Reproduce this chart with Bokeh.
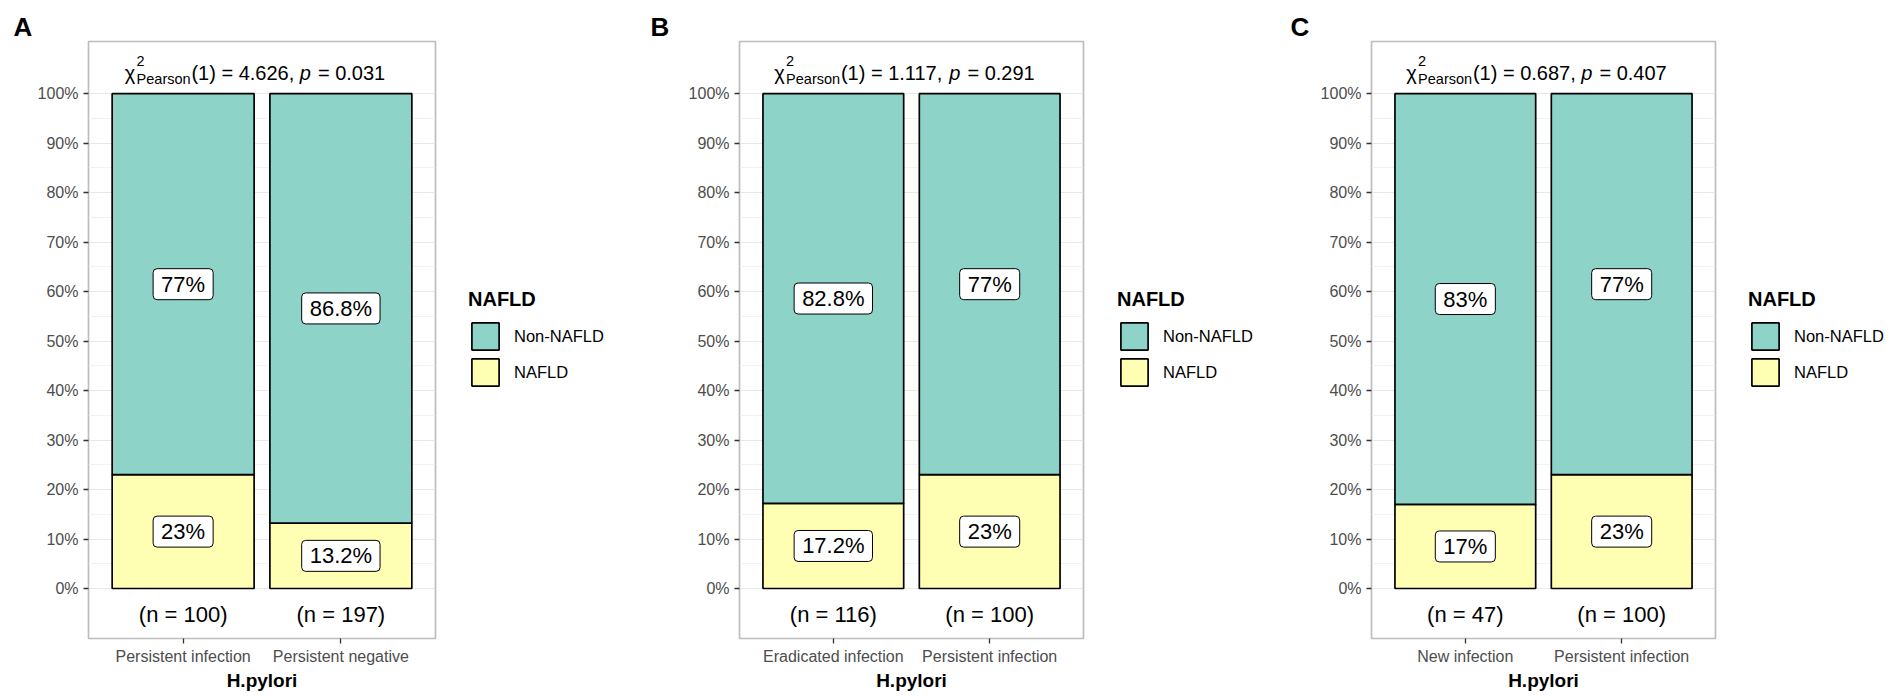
from bokeh.plotting import figure
from bokeh.models import Range1d, FixedTicker, Legend, LegendItem, ColumnDataSource, Title
from bokeh.layouts import row
from bokeh.embed import file_html
from bokeh.resources import INLINE
from bokeh.core.properties import value

# ---------------- data ----------------
panel_letters = ["A", "B", "C"]
groups_A = ["Persistent infection", "Persistent negative"]
groups_B = ["Eradicated infection", "Persistent infection"]
groups_C = ["New infection", "Persistent infection"]
nafld_A = [23.0, 13.2]
non_nafld_A = [77.0, 86.8]
n_A = [100, 197]
nafld_B = [17.2, 23.0]
non_nafld_B = [82.8, 77.0]
n_B = [116, 100]
nafld_C = [17.0, 23.0]
non_nafld_C = [83.0, 77.0]
n_C = [47, 100]
chi_A, p_A = "4.626", "0.031"
chi_B, p_B = "1.117", "0.291"
chi_C, p_C = "0.687", "0.407"
chi_df = 1
y_ticks = list(range(0, 101, 10))
y_minor = list(range(5, 100, 10))
y_tick_labels = [f"{t}%" for t in y_ticks]
legend_title = "NAFLD"
legend_labels = ["Non-NAFLD", "NAFLD"]
x_title = "H.pylori"

# ---------------- style ----------------
COL_NON = "#8DD3C7"
COL_NAFLD = "#FFFFB3"
FONT = "Liberation Sans"
TOP, FRAME_H, BOTTOM = 41, 601, 51
FIG_H = TOP + FRAME_H + BOTTOM
Y0, Y1 = -10.1, 110.54

W = {" ": .278, "(": .333, ")": .333, "=": .584, ".": .278, ",": .278, "p": .556,
     "P": .667, "e": .556, "a": .556, "r": .333, "s": .5, "o": .556, "n": .556, "χ": .55}
for d in "0123456789":
    W[d] = .556


def tw(s, size):
    return sum(W.get(c, .556) for c in s) * size


def make_panel(letter, groups, nafld, non, ns, chi, pv, left, frame_w, right, letter_dx):
    p = figure(width=left + frame_w + right, height=FIG_H,
               x_range=Range1d(0.4, 2.6), y_range=Range1d(Y0, Y1),
               output_backend="svg", toolbar_location=None,
               min_border_left=left, min_border_right=right, min_border_top=TOP,
               min_border_bottom=BOTTOM)
    p.background_fill_color = "white"
    p.border_fill_color = "white"
    p.outline_line_color = "#BDBDBD"
    p.outline_line_width = 1.7

    p.title = Title(text=letter, align="left", offset=letter_dx, standoff=0,
                    text_font=FONT, text_font_size="26px", text_font_style="bold",
                    text_color="black")

    xs = [1, 2]
    tops = [a + b for a, b in zip(nafld, non)]
    p.vbar(x=xs, bottom=0, top=nafld, width=0.9, fill_color=COL_NAFLD,
           line_color="black", line_width=1.7)
    p.vbar(x=xs, bottom=nafld, top=tops, width=0.9, fill_color=COL_NON,
           line_color="black", line_width=1.7)

    lab = ColumnDataSource(dict(
        x=xs + xs,
        y=[v / 2 for v in nafld] + [a + b / 2 for a, b in zip(nafld, non)],
        text=[f"{v:g}%" for v in nafld] + [f"{v:g}%" for v in non]))
    p.text(x="x", y="y", text="text", source=lab, text_font=value(FONT), text_font_size="22px",
           text_align="center", text_baseline="middle", text_color="black",
           background_fill_color="white", border_line_color="black", border_line_width=1,
           border_radius=4, padding=dict(x=8, y=3))

    p.text(x=xs, y=[-5.2, -5.2], text=[f"(n = {k})" for k in ns], text_font=value(FONT),
           text_font_size="22px", text_align="center", text_baseline="middle", text_color="black")

    # subtitle: chi^2_Pearson(1) = ..., p = ...
    F, f = 20, 14.5
    s4 = f"({chi_df}) = {chi}, "
    s6 = f"= {pv}"
    w_chi = tw("χ", F)
    w_sub = tw("Pearson", f)
    g = 0.8
    pgap = 7
    total = w_chi + g + w_sub + g + tw(s4, F) + tw("p", F) + pgap + tw(s6, F)
    x0 = -7 - total / 2
    x1 = x0 + w_chi + g
    x2 = x1 + w_sub + g
    x3 = x2 + tw(s4, F)
    x4 = x3 + tw("p", F) + pgap
    tsrc = ColumnDataSource(dict(
        x=[1.5] * 6, y=[104.2, 106.5, 102.9, 104.2, 104.2, 104.2],
        text=["χ", "2", "Pearson", s4, "p", s6], xo=[x0, x1, x1, x2, x3, x4],
        fs=[f"{F}px", f"{f}px", f"{f}px", f"{F}px", f"{F}px", f"{F}px"],
        st=["normal", "normal", "normal", "normal", "italic", "normal"]))
    p.text(x="x", y="y", text="text", x_offset="xo", text_font_size="fs", text_font_style="st",
           source=tsrc, text_font=value(FONT), text_align="left", text_baseline="alphabetic",
           text_color="black")

    # axes
    p.xaxis.ticker = FixedTicker(ticks=xs)
    p.xaxis.major_label_overrides = {1: groups[0], 2: groups[1]}
    p.xaxis.axis_label = x_title
    p.yaxis.ticker = FixedTicker(ticks=y_ticks, minor_ticks=y_minor)
    p.yaxis.major_label_overrides = {t: l for t, l in zip(y_ticks, y_tick_labels)}
    for ax in (p.xaxis, p.yaxis):
        ax.axis_line_color = None
        ax.major_tick_in = 0
        ax.major_tick_out = 5
        ax.minor_tick_out = 0
        ax.minor_tick_in = 0
        ax.major_tick_line_color = "#333333"
        ax.major_tick_line_width = 1.3
        ax.major_label_text_font = FONT
        ax.major_label_text_color = "#4D4D4D"
        ax.major_label_text_font_size = "16px"
    p.yaxis.major_label_standoff = 5
    p.xaxis.major_label_standoff = 4
    p.xaxis.axis_label_text_font = FONT
    p.xaxis.axis_label_text_font_size = "19px"
    p.xaxis.axis_label_text_font_style = "bold"
    p.xaxis.axis_label_text_color = "black"
    p.xaxis.axis_label_standoff = 2

    p.xgrid.visible = False
    p.ygrid.grid_line_color = "#E8E8E8"
    p.ygrid.grid_line_width = 1.2
    p.ygrid.minor_grid_line_color = "#F0F0F0"
    p.ygrid.minor_grid_line_width = 0.9
    return p


def make_legend(width, dx, nafld, non):
    # borders of figures in a row are aligned, so this frame spans the same rows as the panels
    lg = figure(width=width, height=FIG_H, x_axis_type=None, y_axis_type=None,
                output_backend="svg", toolbar_location=None, min_border=0,
                x_range=Range1d(0.4, 2.6), y_range=Range1d(Y0, Y1))
    lg.outline_line_color = None
    lg.background_fill_color = "white"
    lg.border_fill_color = "white"
    xs = [1, 2]
    tops = [a + b for a, b in zip(nafld, non)]
    r_n = lg.vbar(x=xs, bottom=0, top=nafld, width=0.9, fill_color=COL_NAFLD,
                  line_color="black", line_width=1.7, visible=False)
    r_non = lg.vbar(x=xs, bottom=nafld, top=tops, width=0.9, fill_color=COL_NON,
                    line_color="black", line_width=1.7, visible=False)
    legend = Legend(items=[LegendItem(label=legend_labels[0], renderers=[r_non]),
                           LegendItem(label=legend_labels[1], renderers=[r_n])],
                    title=legend_title, location=(dx, TOP + FRAME_H - 393), margin=0, padding=0,
                    spacing=2, glyph_width=34, glyph_height=34, label_height=34,
                    label_standoff=12, title_standoff=8, border_line_color=None,
                    background_fill_alpha=0, click_policy="none",
                    label_text_font=FONT, label_text_font_size="16.5px", label_text_color="black",
                    title_text_font=FONT, title_text_font_size="20px", title_text_font_style="bold",
                    title_text_color="black")
    lg.add_layout(legend, "center")
    return lg


# picture edges: 0 | 438 | 640 | 1086 | 1282 | 1718 | 1892
pA = make_panel(panel_letters[0], groups_A, nafld_A, non_nafld_A, n_A, chi_A, p_A, 88, 347, 3, -75)
lA = make_legend(202, 30, nafld_A, non_nafld_A)
pB = make_panel(panel_letters[1], groups_B, nafld_B, non_nafld_B, n_B, chi_B, p_B, 99, 344, 3, -89)
lB = make_legend(196, 31, nafld_B, non_nafld_B)
pC = make_panel(panel_letters[2], groups_C, nafld_C, non_nafld_C, n_C, chi_C, p_C, 89, 344, 3, -81)
lC = make_legend(172, 30, nafld_C, non_nafld_C)

layout = row(pA, lA, pB, lB, pC, lC)
open("out.html", "w").write(file_html(layout, INLINE))
